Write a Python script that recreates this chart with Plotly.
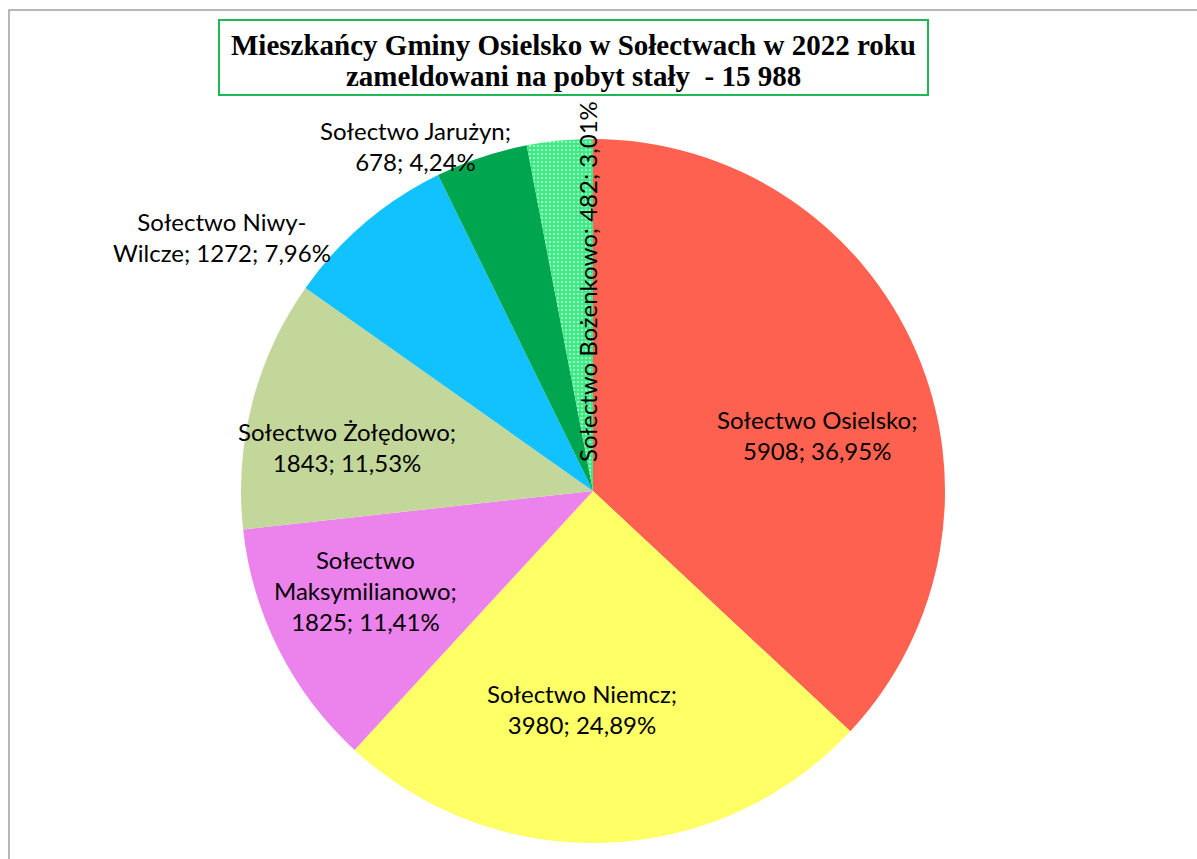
import plotly.graph_objects as go

# data
names = ["Sołectwo Osielsko", "Sołectwo Niemcz", "Sołectwo Maksymilianowo",
         "Sołectwo Żołędowo", "Sołectwo Niwy-Wilcze", "Sołectwo Jarużyn",
         "Sołectwo Bożenkowo"]
residents = [5908, 3980, 1825, 1843, 1272, 678, 482]
slice_colors = ["#FE6150", "#FFFF66", "#EC82EC", "#C4D79B", "#12C2FF", "#00A64F", "#36EA80"]
title_lines = ["Mieszkańcy Gminy Osielsko w Sołectwach w 2022 roku",
               "zameldowani na pobyt stały  - 15 988"]

W, H = 1197, 859
total = sum(residents)

# label placement (pixel centres), line breaks as in the original
label_pos = [(817, 435), (582, 709), (365, 590), (347, 447), (222, 237), (415, 146), (587, 282)]
label_wrap = [
    "{n};<br>{v}; {p}",
    "{n};<br>{v}; {p}",
    "Sołectwo<br>Maksymilianowo;<br>{v}; {p}",
    "{n};<br>{v}; {p}",
    "Sołectwo Niwy-<br>Wilcze; {v}; {p}",
    "{n};<br>{v}; {p}",
    "{n}; {v}; {p}",
]


def px(x, y):
    return x / W, 1 - y / H


fig = go.Figure(go.Pie(
    labels=names, values=residents, sort=False, direction="clockwise", rotation=0,
    marker=dict(
        colors=slice_colors, line=dict(width=0),
        pattern=dict(shape=["", "", "", "", "", "", "."], fgcolor="white",
                     size=4, solidity=0.35, fillmode="overlay"),
    ),
    textinfo="none", hoverinfo="label+value+percent", showlegend=False,
    domain=dict(x=[241 / W, 945 / W], y=[(H - 843) / H, (H - 139) / H]),
))

for i, (n, v) in enumerate(zip(names, residents)):
    pct = f"{v / total * 100:.2f}%".replace(".", ",")
    txt = label_wrap[i].format(n=n, v=v, p=pct)
    x, y = px(*label_pos[i])
    fig.add_annotation(
        x=x, y=y, xref="paper", yref="paper", text=txt, showarrow=False,
        xanchor="center", yanchor="middle",
        textangle=-90 if i == 6 else 0, align="center",
        font=dict(family="Lato, sans-serif", size=24, color="black"),
    )

# title box
x0, y0 = px(219, 95)
x1, y1 = px(928, 20)
fig.add_shape(type="rect", xref="paper", yref="paper", x0=x0, x1=x1, y0=y0, y1=y1,
              line=dict(color="#1DB954", width=2), fillcolor="white", layer="below")
for k, line in enumerate(title_lines):
    tx, ty = px(573, 45 + 31 * k)
    fig.add_annotation(
        x=tx, y=ty, xref="paper", yref="paper", showarrow=False,
        xanchor="center", yanchor="middle", text=f"<b>{line}</b>",
        font=dict(family="Liberation Serif, Times New Roman, serif", size=29, color="black"),
    )

# outer chart-area border
bx0, by1 = px(9, 10)
fig.add_shape(type="rect", xref="paper", yref="paper",
              x0=bx0, x1=1.01, y0=-0.01, y1=by1,
              line=dict(color="#A0A0A0", width=1.5), layer="below")

fig.update_layout(
    width=W, height=H, margin=dict(l=0, r=0, t=0, b=0),
    paper_bgcolor="white", plot_bgcolor="white",
)

fig.write_html("out.html", config={"displayModeBar": False},
               post_script="document.body.style.margin='0';")
